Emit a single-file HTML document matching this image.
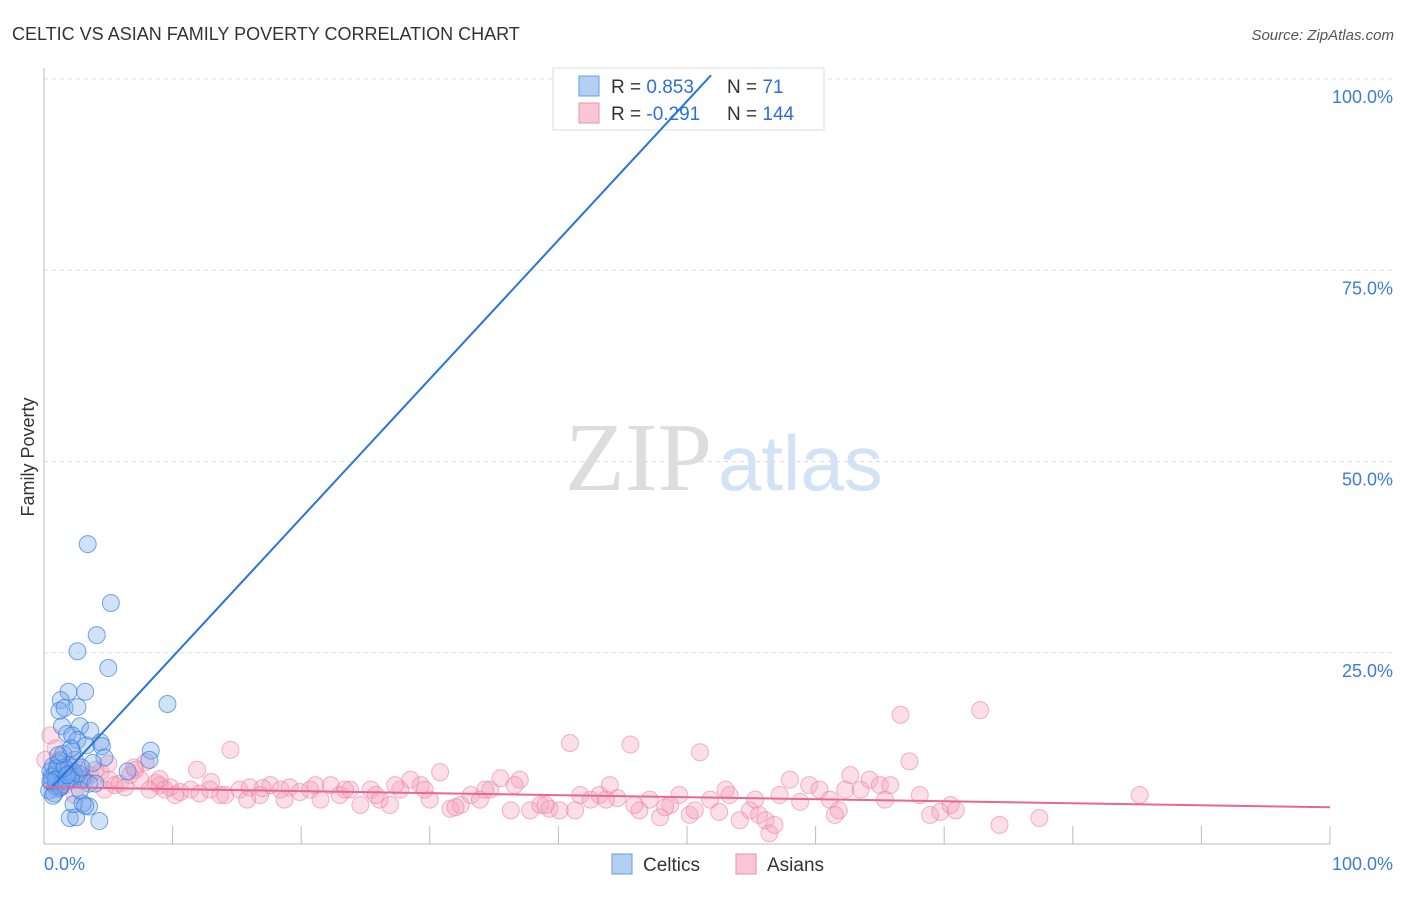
<!DOCTYPE html>
<html><head><meta charset="utf-8"><style>
body{margin:0;background:#fff;font-family:"Liberation Sans",sans-serif;}
svg text{font-family:"Liberation Sans",sans-serif;}
</style></head><body>
<svg id="chart" width="1406" height="892" xmlns="http://www.w3.org/2000/svg">
<text x="12" y="40" font-size="18" fill="#333">CELTIC VS ASIAN FAMILY POVERTY CORRELATION CHART</text>
<text x="1394" y="40" font-size="15" fill="#555" font-style="italic" text-anchor="end">Source: ZipAtlas.com</text>
<text x="712" y="490" font-size="98" fill="#ddd" style="font-family:'Liberation Serif',serif" text-anchor="end">ZIP</text>
<text x="718" y="490" font-size="78" fill="#d3e2f5">atlas</text>
<g id="grid"></g>
<g id="axes"></g>
<g id="pts"></g>
<g>
<rect x="553" y="68" width="271" height="62" fill="#fff" stroke="#ddd"/>
<rect x="579" y="76" width="20" height="20" fill="#b3cff3" stroke="#6a9ee0"/>
<rect x="579" y="103" width="20" height="20" fill="#f9c6d5" stroke="#ee90ae"/>
<text x="611" y="93" font-size="19" fill="#333">R = <tspan fill="#2f6fd6"> 0.853</tspan></text>
<text x="727" y="93" font-size="19" fill="#333">N = <tspan fill="#2f6fd6">  71</tspan></text>
<text x="611" y="120" font-size="19" fill="#333">R = <tspan fill="#2f6fd6">-0.291</tspan></text>
<text x="727" y="120" font-size="19" fill="#333">N = <tspan fill="#2f6fd6">144</tspan></text>
</g>
<g id="lines"></g>
<text transform="translate(34,457) rotate(-90)" font-size="18" fill="#333" text-anchor="middle">Family Poverty</text>
<g>
<rect x="612" y="854" width="20" height="20" fill="#b3cff3" stroke="#6a9ee0"/>
<text x="643" y="871" font-size="19" fill="#333">Celtics</text>
<rect x="736" y="854" width="20" height="20" fill="#f9c6d5" stroke="#ee90ae"/>
<text x="767" y="871" font-size="19" fill="#333">Asians</text>
</g>
</svg>
<script>
const yTicks=[25,50,75,100];
const yTickLabels=["25.0%","50.0%","75.0%","100.0%"];
const xTickLabels=["0.0%","100.0%"];
const blueX=[3.4,5.2,4.1,2.6,5.0,9.6,1.9,3.2,1.3,1.2,1.6,2.6,1.4,2.8,1.8,2.2,2.6,3.3,4.4,4.5,8.3,8.2,4.7,2.2,1.3,0.5,0.8,1.0,1.5,2.0,2.5,3.0,0.6,0.9,1.2,1.7,2.3,0.7,1.1,1.9,2.7,0.4,0.8,1.4,2.1,3.5,6.5,2.0,2.5,4.3,3.5,2.3,3.0,3.2,2.8,0.6,1.0,1.6,2.4,3.8,0.9,1.3,0.5,1.8,2.9,1.5,4.0,0.7,3.6,2.1,1.1];
const blueY=[39.2,31.5,27.3,25.2,23,18.3,19.9,19.9,18.8,17.4,17.8,17.9,15.4,15.4,14.4,14.2,13.6,12.9,13.3,12.8,12.2,11.0,11.3,12.1,10.9,9.5,9.0,8.6,9.7,9.1,8.8,8.5,8.0,7.6,7.3,8.2,9.4,10.2,10.6,10.3,9.2,7.0,6.6,7.8,8.6,7.9,9.5,3.4,3.5,3.0,4.9,5.2,5.3,5.0,7.0,8.8,9.9,10.0,11.0,10.6,8.4,7.5,8.2,9.0,10.0,11.8,7.9,6.3,14.8,12.5,11.6];
const pinkX=[0.5,0.9,1.2,2.0,2.8,3.6,4.4,5.1,5.9,6.7,7.5,8.2,9.0,9.8,10.6,11.4,12.1,12.9,13.7,14.5,15.2,16.0,16.8,17.6,18.4,19.1,19.9,20.7,21.5,22.3,23.0,23.8,24.6,25.4,26.1,26.9,27.7,28.5,29.3,30.0,30.8,31.6,32.4,33.2,33.9,34.7,35.5,36.3,37.0,37.8,38.6,39.3,40.1,40.9,41.7,42.5,43.2,44.0,44.6,45.6,46.3,47.1,47.9,48.7,49.4,50.2,51.0,51.8,52.5,53.3,54.1,54.9,55.6,56.4,57.2,58.0,58.8,59.5,60.3,61.1,61.8,62.7,63.5,64.2,65.0,65.4,65.8,66.6,67.3,68.1,68.9,69.7,70.5,72.8,74.3,77.4,85.2,0.1,1.6,2.4,3.2,4.0,4.7,5.5,6.3,7.1,7.9,8.7,9.4,10.2,11.9,14.1,15.8,18.7,21.1,23.4,25.8,27.3,29.6,32.0,34.3,36.6,39.0,41.3,43.7,45.9,48.3,50.6,53.0,55.3,56.1,56.8,61.5,62.3,70.9,1.0,3.0,5.0,7.0,9.0,13.0,17.0];
const pinkY=[14.2,12.5,11.0,10.3,9.7,9.0,9.4,8.4,7.9,9.0,8.4,7.1,7.7,7.4,6.8,7.1,6.6,7.1,6.4,12.3,7.1,7.4,6.4,7.7,7.1,7.4,6.8,7.1,5.8,7.7,6.4,7.1,5.1,7.1,5.8,5.1,7.1,8.4,7.7,5.8,9.4,4.6,5.1,6.4,5.8,7.1,8.6,4.4,8.4,4.4,5.1,4.6,4.4,13.2,6.4,5.8,6.4,7.7,6.0,13.0,4.4,5.8,3.5,5.1,6.4,3.8,12.0,5.8,4.2,6.4,3.1,4.4,3.8,1.4,6.4,8.4,5.5,7.7,7.1,5.8,4.4,9.0,7.1,8.4,7.7,5.8,7.7,16.9,10.8,6.4,3.8,4.2,5.1,17.5,2.5,3.4,6.4,11.0,7.7,6.4,8.4,9.7,7.1,7.7,7.4,9.7,10.7,8.0,7.1,6.4,9.7,6.4,5.8,5.8,7.7,7.1,6.4,7.7,7.1,4.8,7.1,7.7,5.1,4.4,5.8,5.1,4.8,4.4,7.1,5.8,3.1,2.5,3.8,7.1,4.4,7.1,8.8,10.5,10.0,8.5,8.1,7.3];
const blueFit=[6.3,1.816];   // intercept, slope
const pinkFit=[7.45,-0.0265];
const X0=44,X1=1330,Y0=844,YS=7.65;
const sx=v=>X0+(X1-X0)*v/100, sy=v=>Y0-v*YS;
const NS="http://www.w3.org/2000/svg";
function mk(tag,attrs,parent){const e=document.createElementNS(NS,tag);for(const k in attrs)e.setAttribute(k,attrs[k]);parent.appendChild(e);return e;}
const grid=document.getElementById('grid'),axes=document.getElementById('axes');
yTicks.forEach((t,i)=>{
 const l=mk('line',{x1:X0,x2:1395,y1:sy(t),y2:sy(t),stroke:'#ddd','stroke-dasharray':'4,4'},grid);
 
 
 const tx=mk('text',{x:1393,y:sy(t)+24,'font-size':18,fill:'#3b7ddd','text-anchor':'end'},grid);
 tx.textContent=yTickLabels[i];
 
 
});
const ya=mk('line',{x1:X0,x2:X0,y1:68,y2:Y0,stroke:'#bbb'},axes);


const xa=mk('line',{x1:X0,x2:X1,y1:Y0,y2:Y0,stroke:'#bbb'},axes);


for(let i=1;i<=10;i++){
 const t=mk('line',{x1:sx(i*10),x2:sx(i*10),y1:Y0-18,y2:Y0,stroke:'#bbb'},axes);
 
 
}
[[0,'start',44],[100,'end',1393]].forEach(([v,a,x],i)=>{
 const tx=mk('text',{x:x,y:870,'font-size':18,fill:'#3b7ddd','text-anchor':a},axes);
 tx.textContent=xTickLabels[i];
 
 
});
const pts=document.getElementById('pts');
pinkX.forEach((x,i)=>{
 const c=mk('circle',{cx:sx(x),cy:sy(pinkY[i]),r:8.5,fill:'rgba(244,160,186,0.35)',stroke:'rgba(236,130,165,0.6)','stroke-width':1},pts);
 
 
});
blueX.forEach((x,i)=>{
 const c=mk('circle',{cx:sx(x),cy:sy(blueY[i]),r:8.5,fill:'rgba(120,170,235,0.35)',stroke:'rgba(50,120,220,0.65)','stroke-width':1},pts);
 
 
});
const lines=document.getElementById('lines');
const bxEnd=(100.5-blueFit[0])/blueFit[1];
const bl=mk('line',{x1:sx(0.5),y1:sy(blueFit[0]+blueFit[1]*0.5),x2:sx(bxEnd),y2:sy(100.5),stroke:'#2a74d8','stroke-width':2},lines);


const pl=mk('line',{x1:sx(0),y1:sy(pinkFit[0]),x2:sx(100),y2:sy(pinkFit[0]+pinkFit[1]*100),stroke:'#e8678f','stroke-width':2},lines);


</script>
</body></html>
